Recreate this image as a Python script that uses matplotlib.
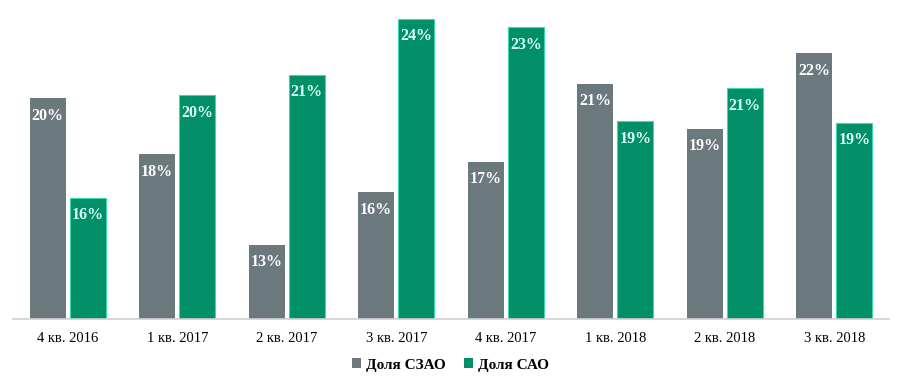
import matplotlib.pyplot as plt
import numpy as np

# Данные (доли, %), ось начинается с 10%
quarters = ['4 кв. 2016', '1 кв. 2017', '2 кв. 2017', '3 кв. 2017',
            '4 кв. 2017', '1 кв. 2018', '2 кв. 2018', '3 кв. 2018']
szao = [20.11, 17.55, 13.39, 15.81, 17.19, 20.76, 18.70, 22.17]
sao = [15.55, 20.25, 21.17, 23.73, 23.36, 19.06, 20.57, 18.97]

gray = '#6b787e'
green = '#008f66'

plt.rcParams['font.family'] = ['Liberation Serif', 'DejaVu Serif']

fig = plt.figure(figsize=(9.01, 3.82), dpi=100)
ax = fig.add_axes([13 / 901, 63 / 382, 876 / 901, 319 / 382])

x = np.arange(len(quarters))
w = 0.33
off = 0.184

b1 = ax.bar(x - off, szao, w, bottom=0, color=gray, label='Доля СЗАО')
b2 = ax.bar(x + off, sao, w, bottom=0, color=green, edgecolor='#3fd6b4',
            linewidth=0.8, label='Доля САО')

# подписи внутри столбцов
for rects, vals, tc in [(b1, szao, 'white'), (b2, sao, '#dcfff6')]:
    for r, v in zip(rects, vals):
        ax.text(r.get_x() + r.get_width() / 2, v - 0.8, f'{round(v)}%',
                ha='center', va='center', color=tc, fontsize=11.5,
                fontweight='bold')

ax.set_ylim(10, 10 + 319 / 21.85)
ax.set_xlim(-0.5, 7.5)
ax.set_xticks(x)
ax.set_xticklabels(quarters, fontsize=10.5)
ax.tick_params(axis='x', length=0, pad=9)
ax.set_yticks([])
for s in ['top', 'right', 'left']:
    ax.spines[s].set_visible(False)
ax.spines['bottom'].set_color('#d0d0d0')
ax.spines['bottom'].set_linewidth(1.2)

leg = fig.legend(handles=[b1, b2], loc='center', bbox_to_anchor=(0.5, 17 / 382),
                 ncol=2, frameon=False, handlelength=0.6, handleheight=0.6,
                 handletextpad=0.3, columnspacing=1.2,
                 prop={'size': 11, 'weight': 'bold'})
for h in leg.legend_handles:
    h.set_edgecolor('none')

fig.savefig('out.png', dpi=100)
